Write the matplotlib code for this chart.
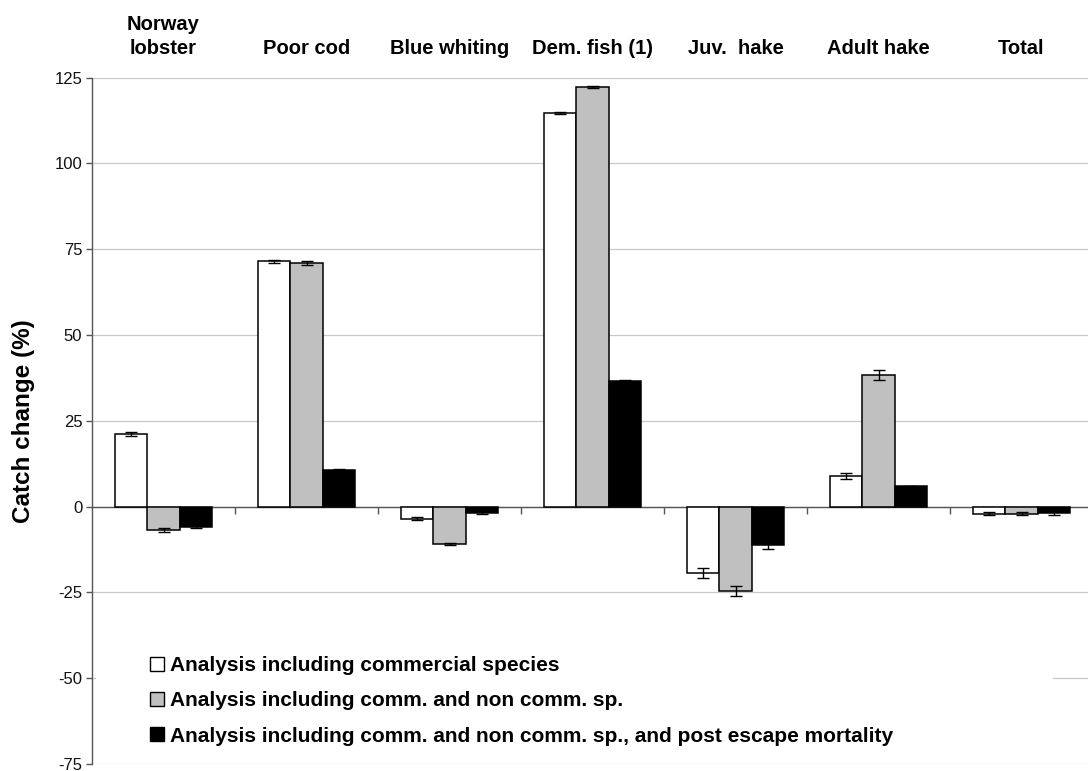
import numpy as np
import matplotlib
matplotlib.use("Agg")
import matplotlib.pyplot as plt
from matplotlib.patches import Rectangle
from matplotlib.transforms import blended_transform_factory

plt.rcParams["font.family"] = ["Liberation Sans", "DejaVu Sans"]
plt.rcParams["axes.unicode_minus"] = False

categories = ["Norway\nlobster", "Poor cod", "Blue whiting", "Dem. fish (1)",
              "Juv.  hake", "Adult hake", "Total"]
series_labels = ["Analysis including commercial species",
                 "Analysis including comm. and non comm. sp.",
                 "Analysis including comm. and non comm. sp., and post escape mortality"]
commercial = [21.2, 71.4, -3.5, 114.7, -19.4, 9.0, -2.1]
commercial_err = [0.6, 0.5, 0.5, 0.2, 1.4, 0.9, 0.5]
non_comm = [-6.8, 71.0, -10.9, 122.3, -24.6, 38.3, -2.1]
non_comm_err = [0.5, 0.6, 0.2, 0.3, 1.4, 1.4, 0.5]
post_escape = [-5.9, 10.6, -1.8, 36.6, -11.1, 5.9, -1.8]
post_escape_err = [0.3, 0.2, 0.4, 0.2, 1.3, 0.2, 0.6]

values = [commercial, non_comm, post_escape]
errors = [commercial_err, non_comm_err, post_escape_err]
colors = ["white", "#C0C0C0", "black"]

fig = plt.figure(figsize=(10.88, 7.71), dpi=100)
ax = fig.add_axes([92 / 1088, 1 - 764 / 771, 1001 / 1088, (764 - 77.5) / 771])

x = np.arange(len(categories))
w = 0.227
for k in range(3):
    ax.bar(x + (k - 1) * w, values[k], w, color=colors[k], edgecolor="black",
           linewidth=1.1, label=series_labels[k], zorder=3,
           yerr=errors[k], capsize=4,
           error_kw=dict(ecolor="black", elinewidth=1.0, capthick=1.0, zorder=4))

ax.set_xlim(-0.5, len(categories) - 0.5)
ax.set_ylim(-75, 125)
ax.set_yticks(np.arange(-75, 126, 25))
ax.yaxis.grid(True, color="#C8C8C8", linewidth=0.9, zorder=0)
ax.set_axisbelow(True)

for s in ("top", "right"):
    ax.spines[s].set_visible(False)
ax.spines["left"].set_color("#555555")
ax.spines["left"].set_linewidth(1.0)
ax.spines["bottom"].set_position(("data", 0))
ax.spines["bottom"].set_color("#555555")
ax.spines["bottom"].set_linewidth(1.0)
ax.spines["bottom"].set_zorder(2)

ax.set_xticks(x[:-1] + 0.5)
ax.set_xticklabels([])
ax.tick_params(axis="x", length=5, width=1.0, color="#555555", direction="out")
ax.tick_params(axis="y", length=4, width=1.0, color="#555555", labelsize=12,
               labelcolor="#111111", pad=3)

ax.set_ylabel("Catch change (%)", fontsize=17.5, fontweight="bold", labelpad=14)

trans = blended_transform_factory(ax.transData, ax.transAxes)
for i, name in enumerate(categories):
    ax.text(i, 1.029, name, transform=trans, ha="center", va="bottom",
            fontsize=14.5, fontweight="bold", linespacing=1.3)

# white area behind the legend (hides the -50 gridline like the original)
ax.add_patch(Rectangle((0.004, -62), 0.956, 24,
                       transform=blended_transform_factory(ax.transAxes, ax.transData),
                       facecolor="white", edgecolor="none", zorder=1))

leg = ax.legend(loc="center left", bbox_to_anchor=(0.058, 0.092),
                frameon=False, prop=dict(size=15, weight="bold"),
                handlelength=0.67, handleheight=0.67, handletextpad=0.3,
                labelspacing=0.78, borderpad=0.0, borderaxespad=0.0)
for h in leg.legend_handles:
    h.set_linewidth(1.0)

fig.savefig("out.png", dpi=100)
